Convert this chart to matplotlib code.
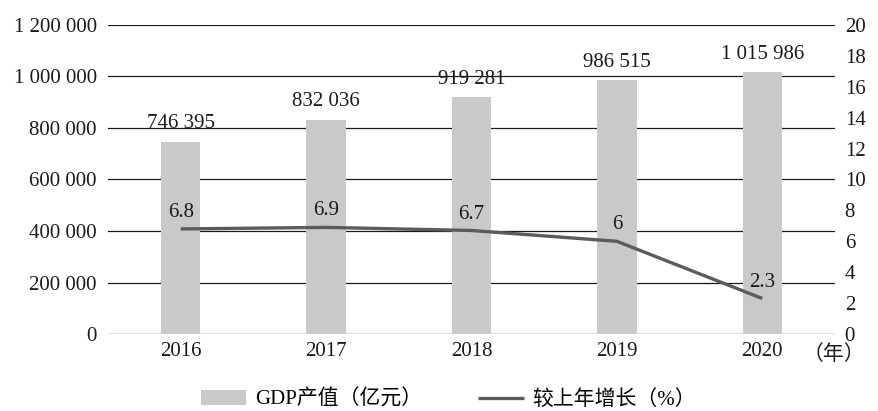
import matplotlib.pyplot as plt
from matplotlib.ticker import FuncFormatter

years = ["2016", "2017", "2018", "2019", "2020"]
gdp = [746395, 832036, 919281, 986515, 1015986]
gdp_labels = ["746 395", "832 036", "919 281", "986 515", "1 015 986"]
growth = [6.8, 6.9, 6.7, 6.0, 2.3]
growth_labels = ["6.8", "6.9", "6.7", "6", "2.3"]

bar_color = "#c8c9ca"
line_color = "#5b5b5b"


def space_fmt(v, pos):
    return f"{int(v):,}".replace(",", " ")


def main():
    plt.rcParams["font.family"] = ["Liberation Serif", "Noto Sans CJK SC"]
    plt.rcParams["font.size"] = 15

    fig = plt.figure(figsize=(8.79, 4.11), dpi=100)
    ax = fig.add_axes([0.1229, 0.1873, 0.827, 0.752])
    ax2 = ax.twinx()

    x = list(range(len(years)))
    bars = ax.bar(x, gdp, width=0.27, color=bar_color, zorder=2,
                  label="GDP产值（亿元）")
    ax.set_xlim(-0.5, 4.5)
    ax.set_ylim(0, 1200000)
    ax.set_yticks(range(0, 1200001, 200000))
    ax.yaxis.set_major_formatter(FuncFormatter(space_fmt))
    ax.set_xticks(x)
    ax.set_xticklabels(years)
    ax.grid(axis="y", color="#1a1a1a", linewidth=0.9, zorder=0)
    ax.set_axisbelow(True)
    for s in ax.spines.values():
        s.set_visible(False)
    ax.tick_params(axis="both", length=0, colors="#1a1a1a")
    ax.tick_params(axis="y", pad=8)
    ax.tick_params(axis="x", pad=6)

    for b, lab in zip(bars, gdp_labels):
        ax.annotate(lab, (b.get_x() + b.get_width() / 2, b.get_height()),
                    xytext=(0, 6), textcoords="offset points",
                    ha="center", va="bottom", color="#1a1a1a")

    line, = ax2.plot(x, growth, color=line_color, linewidth=2.4,
                     solid_capstyle="butt", zorder=3,
                     label="较上年增长（%）")
    ax2.set_ylim(0, 20)
    ax2.set_yticks(range(0, 21, 2))
    for s in ax2.spines.values():
        s.set_visible(False)
    ax2.tick_params(axis="y", length=0, pad=7, colors="#1a1a1a")

    for xi, v, lab in zip(x, growth, growth_labels):
        ax2.annotate(lab, (xi, v), xytext=(0, 5), textcoords="offset points",
                     ha="center", va="bottom", color="#1a1a1a")

    ax.text(0.956, -0.068, "（年）", transform=ax.transAxes,
            ha="left", va="center", color="#1a1a1a")

    fig.legend(handles=[bars, line], loc="center", ncol=2,
               bbox_to_anchor=(0.51, 0.027), frameon=False,
               handlelength=2.2, handletextpad=0.4, columnspacing=2.7)

    fig.savefig("out.png", dpi=100)
    plt.close(fig)


if __name__ == "__main__":
    main()
